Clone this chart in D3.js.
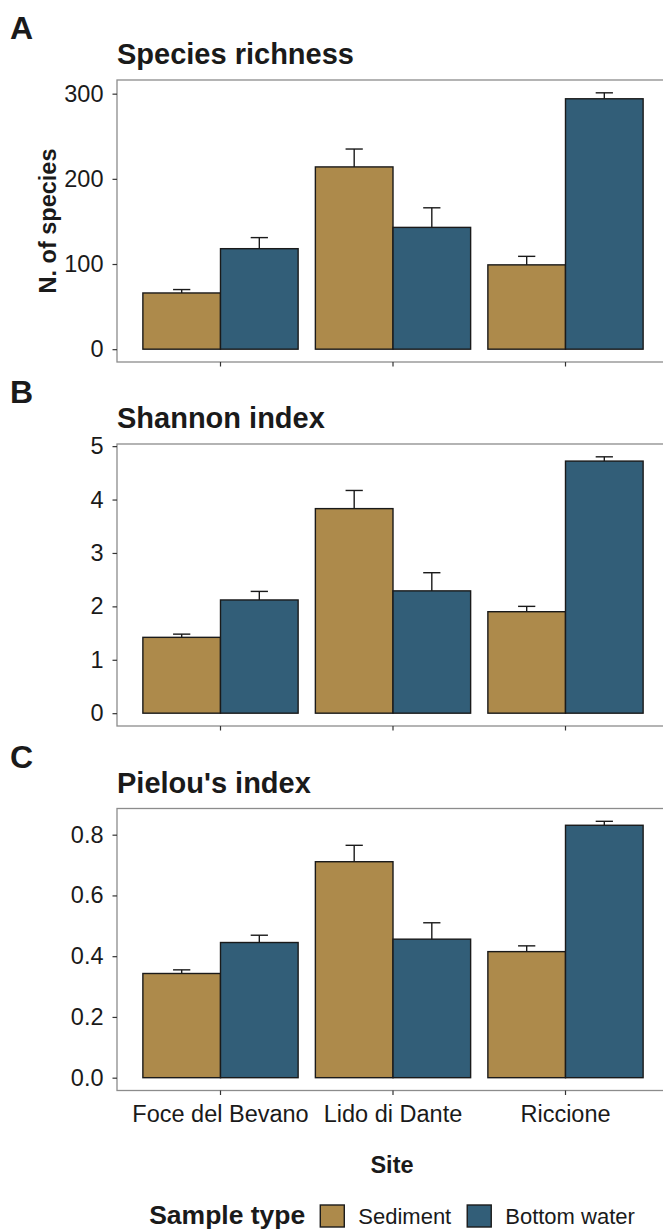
<!DOCTYPE html>
<html>
<head>
<meta charset="utf-8">
<script src="https://cdn.jsdelivr.net/npm/d3@7"></script>
<style>
  body { margin: 0; background: #fff; }
  text { font-family: "Liberation Sans", Arial, sans-serif; fill: #1a1a1a; }
  .tick text { fill: #1a1a1a; }
</style>
</head>
<body>
<div id="chart"></div>
<script>
  // Categories
  var sites = ["Foce del Bevano", "Lido di Dante", "Riccione"];
  var types = ["Sediment", "Bottom water"];

  // Species richness (mean and standard error)
  var richnessSed = [66, 214, 99];
  var richnessSedSe = [4, 21, 10];
  var richnessBw = [118, 143, 294];
  var richnessBwSe = [13, 23, 7];

  // Shannon index
  var shannonSed = [1.42, 3.83, 1.90];
  var shannonSedSe = [0.06, 0.34, 0.10];
  var shannonBw = [2.12, 2.29, 4.72];
  var shannonBwSe = [0.16, 0.34, 0.08];

  // Pielou's index
  var pielouSed = [0.343, 0.711, 0.415];
  var pielouSedSe = [0.012, 0.054, 0.019];
  var pielouBw = [0.445, 0.456, 0.831];
  var pielouBwSe = [0.024, 0.054, 0.013];

  // Tick labels
  var richnessTicks = [0, 100, 200, 300];
  var shannonTicks = [0, 1, 2, 3, 4, 5];
  var pielouTicks = [0, 0.2, 0.4, 0.6, 0.8];

  var colors = { "Sediment": "#ad8a4b", "Bottom water": "#325e78" };

  var dims = {
    width: 663,
    height: 1230,
    left: 117,
    right: 669,
    panelHeight: 282,
    panelTops: [80, 444, 808.5]
  };

  var svg = d3.select("#chart")
    .append("svg")
    .attr("width", dims.width)
    .attr("height", dims.height);

  // x scale shared by the three panels
  var xScale = d3.scaleBand()
    .domain(sites)
    .range([dims.left, dims.right])
    .paddingInner(0.1)
    .paddingOuter(0.15);

  var xSub = d3.scaleBand()
    .domain(types)
    .range([0, xScale.bandwidth()]);

  var panels = [
    { tag: "A", title: "Species richness", sed: richnessSed, sedSe: richnessSedSe, bw: richnessBw, bwSe: richnessBwSe, ticks: richnessTicks, fmt: d3.format("d"), ylab: "N. of species" },
    { tag: "B", title: "Shannon index", sed: shannonSed, sedSe: shannonSedSe, bw: shannonBw, bwSe: shannonBwSe, ticks: shannonTicks, fmt: d3.format("d"), ylab: null },
    { tag: "C", title: "Pielou's index", sed: pielouSed, sedSe: pielouSedSe, bw: pielouBw, bwSe: pielouBwSe, ticks: pielouTicks, fmt: d3.format(".1f"), ylab: null }
  ];

  panels.forEach(function (p, k) {
    var top = dims.panelTops[k];
    var bottom = top + dims.panelHeight;

    var rows = sites.map(function (s, i) {
      return [
        { site: s, type: types[0], value: p.sed[i], se: p.sedSe[i] },
        { site: s, type: types[1], value: p.bw[i], se: p.bwSe[i] }
      ];
    }).flat();

    // y domain expanded by 5% on both sides, like ggplot
    var maxVal = d3.max(rows, function (d) { return d.value + d.se; });
    var yScale = d3.scaleLinear()
      .domain([-0.05 * maxVal, maxVal * 1.05])
      .range([bottom, top]);

    var g = svg.append("g");

    // Panel tag and title
    g.append("text")
      .attr("x", 10)
      .attr("y", top - 41)
      .style("font-size", "32px")
      .style("font-weight", "bold")
      .text(p.tag);

    g.append("text")
      .attr("x", dims.left)
      .attr("y", top - 16)
      .style("font-size", "29px")
      .style("font-weight", "bold")
      .text(p.title);

    // Bars
    g.selectAll(".bar")
      .data(rows)
      .enter().append("rect")
      .attr("class", "bar")
      .attr("x", function (d) { return xScale(d.site) + xSub(d.type); })
      .attr("y", function (d) { return yScale(d.value); })
      .attr("width", xSub.bandwidth())
      .attr("height", function (d) { return yScale(0) - yScale(d.value); })
      .style("fill", function (d) { return colors[d.type]; })
      .style("stroke", "#1a1a1a")
      .style("stroke-width", 1.4);

    // Error bars (upper half only)
    var capW = xScale.step() * 0.1;
    var eb = g.selectAll(".err")
      .data(rows)
      .enter().append("g")
      .attr("class", "err")
      .style("stroke", "#1a1a1a")
      .style("stroke-width", 1.4);

    eb.append("line")
      .attr("x1", function (d) { return xScale(d.site) + xSub(d.type) + xSub.bandwidth() / 2; })
      .attr("x2", function (d) { return xScale(d.site) + xSub(d.type) + xSub.bandwidth() / 2; })
      .attr("y1", function (d) { return yScale(d.value); })
      .attr("y2", function (d) { return yScale(d.value + d.se); });

    eb.append("line")
      .attr("x1", function (d) { return xScale(d.site) + xSub(d.type) + xSub.bandwidth() / 2 - capW / 2; })
      .attr("x2", function (d) { return xScale(d.site) + xSub(d.type) + xSub.bandwidth() / 2 + capW / 2; })
      .attr("y1", function (d) { return yScale(d.value + d.se); })
      .attr("y2", function (d) { return yScale(d.value + d.se); });

    // Panel border
    g.append("rect")
      .attr("x", dims.left)
      .attr("y", top)
      .attr("width", dims.right - dims.left)
      .attr("height", dims.panelHeight)
      .style("fill", "none")
      .style("stroke", "#8c8c8c")
      .style("stroke-width", 1.3);

    // y axis
    var yAxis = d3.axisLeft(yScale)
      .tickValues(p.ticks)
      .tickFormat(p.fmt)
      .tickSize(4.5)
      .tickPadding(9);

    var ya = g.append("g")
      .attr("transform", "translate(" + dims.left + ",0)")
      .call(yAxis);
    ya.select(".domain").remove();
    ya.selectAll(".tick line").style("stroke", "#333").style("stroke-width", 1.2);
    ya.selectAll(".tick text").style("font-size", "23.5px").style("font-family", "'Liberation Sans', Arial, sans-serif");

    // x axis (labels only on the last panel)
    var xAxis = d3.axisBottom(xScale)
      .tickSize(4.5)
      .tickPadding(10)
      .tickFormat(k === panels.length - 1 ? null : function () { return ""; });

    var xa = g.append("g")
      .attr("transform", "translate(0," + bottom + ")")
      .call(xAxis);
    xa.select(".domain").remove();
    xa.selectAll(".tick line").style("stroke", "#333").style("stroke-width", 1.2);
    xa.selectAll(".tick text").style("font-size", "23.5px").style("font-family", "'Liberation Sans', Arial, sans-serif");

    // y axis title
    if (p.ylab) {
      g.append("text")
        .attr("transform", "translate(56," + (top + bottom) / 2 + ") rotate(-90)")
        .attr("text-anchor", "middle")
        .style("font-size", "23.5px")
        .style("font-weight", "bold")
        .text(p.ylab);
    }
  });

  // x axis title
  svg.append("text")
    .attr("x", (dims.left + dims.right) / 2 - 1)
    .attr("y", 1173)
    .attr("text-anchor", "middle")
    .style("font-size", "23.5px")
    .style("font-weight", "bold")
    .text("Site");

  // Legend
  var legend = svg.append("g");
  var lx = 0;
  var ltitle = legend.append("text")
    .attr("x", lx)
    .attr("y", 1224)
    .style("font-size", "26.5px")
    .style("font-weight", "bold")
    .text("Sample type");
  lx += ltitle.node().getComputedTextLength() + 15;

  types.forEach(function (t) {
    legend.append("rect")
      .attr("x", lx)
      .attr("y", 1205)
      .attr("width", 24)
      .attr("height", 22)
      .style("fill", colors[t])
      .style("stroke", "#1a1a1a")
      .style("stroke-width", 1.4);
    lx += 24 + 14;
    var lt = legend.append("text")
      .attr("x", lx)
      .attr("y", 1224)
      .style("font-size", "22px")
      .text(t);
    lx += lt.node().getComputedTextLength() + 16;
  });
  lx -= 16;
  legend.attr("transform", "translate(" + ((dims.left + dims.right) / 2 - 1 - lx / 2) + ",0)");
</script>
</body>
</html>
